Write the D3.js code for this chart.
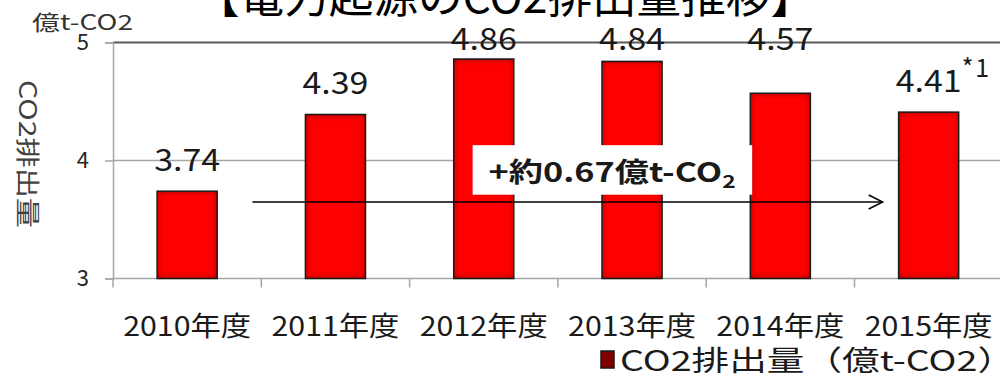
<!DOCTYPE html>
<html>
<head>
<meta charset="utf-8">
<script src="https://cdn.jsdelivr.net/npm/d3@7"></script>
<style>
  html, body { margin: 0; padding: 0; background: #fff; }
  svg { display: block; }
  text { font-family: "Noto Sans CJK JP", "Noto Sans", sans-serif; }
</style>
</head>
<body>
<svg id="chart" width="1000" height="378"></svg>
<script>
// CO2 emissions from electricity generation, in 100 million t-CO2
const categories = ["2010年度", "2011年度", "2012年度", "2013年度", "2014年度", "2015年度"];
const emissions = [3.74, 4.39, 4.86, 4.84, 4.57, 4.41];
const valueLabels = ["3.74", "4.39", "4.86", "4.84", "4.57", "4.41"];
const yTicks = [3, 4, 5];
const titleText = "【電力起源のCO2排出量推移】";
const unitText = "億t-CO2";
const yAxisTitle = "CO2排出量";
const legendText = "CO2排出量（億t-CO2）";
const footnoteMark = "*1";

const svg = d3.select("#chart");
const W = 1000, H = 378;
const plotLeft = 113, plotTop = 42.5, plotBottom = 278.5;
const step = 148.3;

const x = d3.scaleBand().domain(categories).range([plotLeft, plotLeft + step * categories.length]).padding(0);
const y = d3.scaleLinear().domain([3, 5]).range([plotBottom, plotTop]);
const barW = x.bandwidth() * 0.405;

// inner shading on the bars
const defs = svg.append("defs");
const f = defs.append("filter").attr("id", "inset").attr("x", "-5%").attr("y", "-5%").attr("width", "110%").attr("height", "110%");
f.append("feFlood").attr("flood-color", "#3a0000").attr("result", "flood");
f.append("feComposite").attr("in", "flood").attr("in2", "SourceAlpha").attr("operator", "out").attr("result", "outside");
f.append("feGaussianBlur").attr("in", "outside").attr("stdDeviation", 3).attr("result", "blur");
f.append("feComposite").attr("in", "blur").attr("in2", "SourceAlpha").attr("operator", "in").attr("result", "shadow");
const fm = f.append("feMerge");
fm.append("feMergeNode").attr("in", "SourceGraphic");
fm.append("feMergeNode").attr("in", "shadow");

// title (partly above the top edge)
svg.append("text")
  .attr("x", 505).attr("y", 13)
  .attr("text-anchor", "middle")
  .attr("font-size", 44)
  .attr("fill", "#000")
  .attr("textLength", 620).attr("lengthAdjust", "spacingAndGlyphs")
  .text(titleText);

// horizontal grid lines
svg.append("g").selectAll("line").data(yTicks).join("line")
  .attr("x1", plotLeft).attr("x2", W)
  .attr("y1", d => y(d)).attr("y2", d => y(d))
  .attr("stroke", d => d === 5 ? "#5a5a5a" : "#a6a6a6")
  .attr("stroke-width", d => d === 5 ? 2 : 1.5);

// y axis
const yAxis = d3.axisLeft(y).tickValues(yTicks).tickFormat(d3.format("d")).tickSize(8).tickPadding(16);
const gy = svg.append("g").attr("transform", `translate(${plotLeft},0)`).call(yAxis);
gy.select(".domain").attr("stroke", "#a6a6a6").attr("stroke-width", 1.5);
gy.selectAll(".tick line").attr("stroke", "#a6a6a6").attr("stroke-width", 1.5);
gy.selectAll(".tick text")
  .attr("font-size", 22).attr("fill", "#262626")
  .attr("font-family", "\"Noto Sans CJK JP\", sans-serif");

// x axis: ticks at category boundaries
const xAxis = d3.axisBottom(x).tickSize(0).tickPadding(0);
const gx = svg.append("g").attr("transform", `translate(0,${plotBottom})`).call(xAxis);
gx.select(".domain").remove();
gx.selectAll(".tick text")
  .attr("y", 57).attr("dy", 0)
  .attr("font-size", 27).attr("fill", "#1a1a1a")
  .attr("font-family", "\"Noto Sans CJK JP\", sans-serif")
  .attr("textLength", 128).attr("lengthAdjust", "spacingAndGlyphs");
svg.append("g").selectAll("line").data(categories).join("line")
  .attr("x1", d => x(d)).attr("x2", d => x(d))
  .attr("y1", plotBottom).attr("y2", plotBottom + 9)
  .attr("stroke", "#a6a6a6").attr("stroke-width", 1.5);

// bars
const bars = svg.append("g");
bars.selectAll("rect.fill").data(emissions).join("rect")
  .attr("class", "fill")
  .attr("x", (d, i) => x(categories[i]) + (x.bandwidth() - barW) / 2)
  .attr("width", barW)
  .attr("y", d => y(d))
  .attr("height", d => y(3) - y(d))
  .attr("fill", "#ff0000")
  .attr("filter", "url(#inset)");
bars.selectAll("rect.edge").data(emissions).join("rect")
  .attr("class", "edge")
  .attr("x", (d, i) => x(categories[i]) + (x.bandwidth() - barW) / 2)
  .attr("width", barW)
  .attr("y", d => y(d))
  .attr("height", d => y(3) - y(d))
  .attr("fill", "none")
  .attr("stroke", "#1a1a1a").attr("stroke-width", 1.5);

// value labels; high values sit along the top line of the plot
const labelY = v => v > 4.5 ? y(5) + 7 : y(v) - 20;
svg.append("g").selectAll("text").data(emissions).join("text")
  .attr("x", (d, i) => x(categories[i]) + x.bandwidth() / 2)
  .attr("y", d => labelY(d))
  .attr("text-anchor", "middle")
  .attr("font-size", 31)
  .attr("fill", "#1a1a1a")
  .attr("textLength", 66).attr("lengthAdjust", "spacingAndGlyphs")
  .text((d, i) => valueLabels[i]);

// footnote mark on the last value
const lastI = emissions.length - 1;
svg.append("text")
  .attr("x", x(categories[lastI]) + x.bandwidth() / 2 + 33)
  .attr("y", labelY(emissions[lastI]) - 15)
  .attr("font-size", 25)
  .attr("fill", "#1a1a1a")
  .attr("letter-spacing", 2)
  .text(footnoteMark);

// change annotation: arrow from 2010 to 2015 with a boxed label
const arrowV = 3.648;
const ax1 = x(categories[0]) + x.bandwidth() * 0.94;
const ax2 = x(categories[5]) + x.bandwidth() * 0.19;
const ann = svg.append("g");
ann.append("line")
  .attr("x1", ax1).attr("x2", ax2)
  .attr("y1", y(arrowV)).attr("y2", y(arrowV))
  .attr("stroke", "#000").attr("stroke-width", 1.5);
ann.append("path")
  .attr("d", d3.line()([[ax2 - 14, y(arrowV) - 7], [ax2, y(arrowV)], [ax2 - 14, y(arrowV) + 7]]))
  .attr("fill", "none").attr("stroke", "#000").attr("stroke-width", 1.5);

const bx1 = x(categories[2]) + x.bandwidth() * 0.425;
const bx2 = x(categories[4]) + x.bandwidth() * 0.31;
ann.append("rect")
  .attr("x", bx1).attr("width", bx2 - bx1)
  .attr("y", y(4.13)).attr("height", y(3.71) - y(4.13))
  .attr("fill", "#fff");
const annText = ann.append("text")
  .attr("x", bx1 + 16).attr("y", y(3.82))
  .attr("font-size", 27).attr("font-weight", "bold").attr("fill", "#1a1a1a")
  .attr("textLength", 247).attr("lengthAdjust", "spacingAndGlyphs");
annText.append("tspan").text("+約0.67億t-CO");
annText.append("tspan").attr("font-size", 18).attr("dy", 6).text("2");

// y axis unit and title
svg.append("text")
  .attr("x", 32).attr("y", 30)
  .attr("font-size", 21).attr("fill", "#333")
  .attr("textLength", 101).attr("lengthAdjust", "spacingAndGlyphs")
  .text(unitText);
svg.append("text")
  .attr("transform", "translate(19,80) rotate(90)")
  .attr("font-size", 24).attr("fill", "#404040")
  .attr("textLength", 148).attr("lengthAdjust", "spacingAndGlyphs")
  .text(yAxisTitle);

// legend
const lg = svg.append("g");
lg.append("rect")
  .attr("x", 601).attr("y", 351).attr("width", 13).attr("height", 17)
  .attr("fill", "#800000").attr("stroke", "#1a1a1a").attr("stroke-width", 1.5);
lg.append("text")
  .attr("x", 620).attr("y", 371)
  .attr("font-size", 28).attr("fill", "#1a1a1a")
  .attr("textLength", 395).attr("lengthAdjust", "spacingAndGlyphs")
  .text(legendText);
</script>
</body>
</html>
